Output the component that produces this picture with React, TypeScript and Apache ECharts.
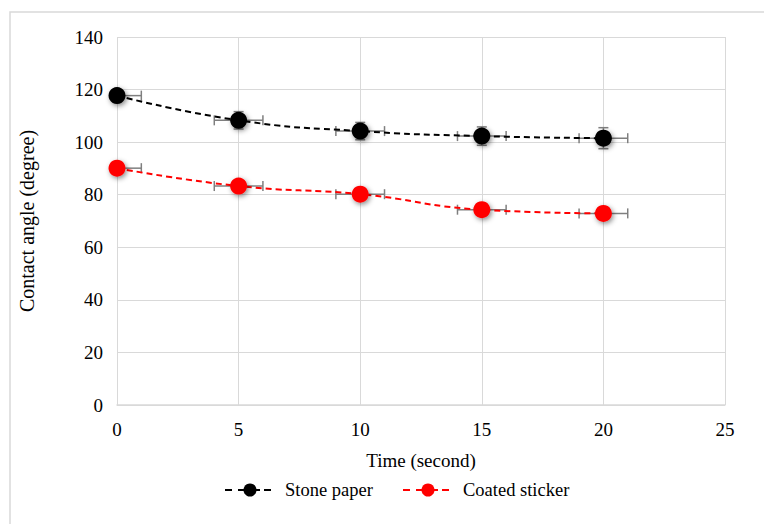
import React, { useEffect, useRef } from "react";
import * as echarts from "echarts";

const times = [0, 5, 10, 15, 20];
const stonePaper = [117.7, 108.3, 104.2, 102.3, 101.5];
const coatedSticker = [90.1, 83.3, 80.2, 74.3, 72.9];
const stoneXErr = [1, 1, 1, 1, 1];
const stoneYErr = [1.5, 3.3, 3.3, 3.5, 4];
const coatedXErr = [1, 1, 1, 1, 1];
const coatedYErr = [1, 1, 1, 1, 1];
const xTicks = [0, 5, 10, 15, 20, 25];
const seriesNames = ["Stone paper", "Coated sticker"];
const seriesColors = ["#000000", "#ff0000"];

const FONT = "'Liberation Serif', 'Times New Roman', serif";

export default function App() {
  const ref = useRef<HTMLDivElement>(null);
  useEffect(() => {
    if (!ref.current) return;
    const chart = echarts.init(ref.current, null, { renderer: "svg" });
    const errData = (ys: number[], xe: number[], ye: number[]) =>
      times.map((t, i) => [t, ys[i], xe[i], ye[i]]);
    const renderErr = (params: any, api: any) => {
      const x = api.value(0);
      const y = api.value(1);
      const xe = api.value(2);
      const ye = api.value(3);
      const xmin = Math.max(x - xe, xTicks[0]);
      const c = api.coord([x, y]);
      const l = api.coord([xmin, y]);
      const r = api.coord([x + xe, y]);
      const t = api.coord([x, y + ye]);
      const b = api.coord([x, y - ye]);
      const style = { stroke: "#7f7f7f", lineWidth: 1.5 };
      const cap = 5;
      const children: any[] = [
        { type: "line", shape: { x1: l[0], y1: c[1], x2: r[0], y2: c[1] }, style },
        { type: "line", shape: { x1: r[0], y1: c[1] - cap, x2: r[0], y2: c[1] + cap }, style },
        { type: "line", shape: { x1: c[0], y1: t[1], x2: c[0], y2: b[1] }, style },
        { type: "line", shape: { x1: c[0] - cap, y1: t[1], x2: c[0] + cap, y2: t[1] }, style },
        { type: "line", shape: { x1: c[0] - cap, y1: b[1], x2: c[0] + cap, y2: b[1] }, style },
      ];
      if (x - xe >= xTicks[0]) {
        children.push({ type: "line", shape: { x1: l[0], y1: c[1] - cap, x2: l[0], y2: c[1] + cap }, style });
      }
      return { type: "group", children };
    };
    const shadow = {
      shadowBlur: 5,
      shadowColor: "rgba(0,0,0,0.45)",
      shadowOffsetX: 1.5,
      shadowOffsetY: 2,
    };
    const legendStarts = [225, 403];
    const legendGraphics: any[] = [];
    seriesNames.forEach((name, i) => {
      const x0 = legendStarts[i];
      const y0 = 490;
      const color = seriesColors[i];
      legendGraphics.push(
        {
          type: "line",
          shape: { x1: x0, y1: y0, x2: x0 + 50, y2: y0 },
          style: { stroke: color, lineWidth: 2, lineDash: [7, 6] },
        },
        {
          type: "line",
          shape: { x1: x0 + 15, y1: y0, x2: x0 + 35, y2: y0 },
          style: { stroke: color, lineWidth: 2 },
        },
        {
          type: "circle",
          shape: { cx: x0 + 25, cy: y0, r: 6.5 },
          style: { fill: color },
        },
        {
          type: "text",
          x: x0 + 60,
          y: y0,
          style: {
            text: name,
            fill: "#000",
            font: "18.5px " + FONT,
            verticalAlign: "middle",
            align: "left",
          },
        }
      );
    });
    chart.setOption({
      animation: false,
      backgroundColor: "#ffffff",
      textStyle: { fontFamily: FONT },
      graphic: [
        {
          type: "rect",
          shape: { x: 10, y: 12, width: 800, height: 600 },
          style: { fill: "none", stroke: "#d9d9d9", lineWidth: 1.5 },
          z: -1,
        },
        ...legendGraphics,
      ],
      grid: { left: 117, right: 39, top: 37, bottom: 119, containLabel: false },
      xAxis: {
        type: "value",
        min: 0,
        max: 25,
        interval: 5,
        name: "Time (second)",
        nameLocation: "middle",
        nameGap: 46,
        nameTextStyle: { fontFamily: FONT, fontSize: 19, color: "#000" },
        axisLine: { show: true, lineStyle: { color: "#d9d9d9", width: 1.5 } },
        axisTick: { show: false },
        axisLabel: { fontFamily: FONT, fontSize: 19, color: "#000", margin: 15 },
        splitLine: { show: true, lineStyle: { color: "#d9d9d9", width: 1 } },
      },
      yAxis: {
        type: "value",
        min: 0,
        max: 140,
        interval: 20,
        name: "Contact angle (degree)",
        nameLocation: "middle",
        nameGap: 80,
        nameTextStyle: { fontFamily: FONT, fontSize: 20, color: "#000" },
        axisLine: { show: false },
        axisTick: { show: false },
        axisLabel: { fontFamily: FONT, fontSize: 19, color: "#000", margin: 14 },
        splitLine: { show: true, lineStyle: { color: "#d9d9d9", width: 1 } },
      },
      series: [
        {
          type: "custom",
          name: "stone-err",
          renderItem: renderErr,
          data: errData(stonePaper, stoneXErr, stoneYErr),
          z: 1,
          silent: true,
        },
        {
          type: "custom",
          name: "coated-err",
          renderItem: renderErr,
          data: errData(coatedSticker, coatedXErr, coatedYErr),
          z: 1,
          silent: true,
        },
        {
          type: "line",
          name: seriesNames[0],
          data: times.map((t, i) => [t, stonePaper[i]]),
          smooth: true,
          symbol: "circle",
          symbolSize: 17,
          lineStyle: { color: seriesColors[0], width: 2, type: [6, 4] },
          itemStyle: { color: seriesColors[0], ...shadow },
          z: 3,
        },
        {
          type: "line",
          name: seriesNames[1],
          data: times.map((t, i) => [t, coatedSticker[i]]),
          smooth: true,
          symbol: "circle",
          symbolSize: 17,
          lineStyle: { color: seriesColors[1], width: 2, type: [6, 4] },
          itemStyle: { color: seriesColors[1], ...shadow },
          z: 3,
        },
      ],
    });
    return () => chart.dispose();
  }, []);
  return (
    <div
      ref={ref}
      style={{ position: "fixed", left: 0, top: 0, width: 764, height: 524 }}
    />
  );
}
